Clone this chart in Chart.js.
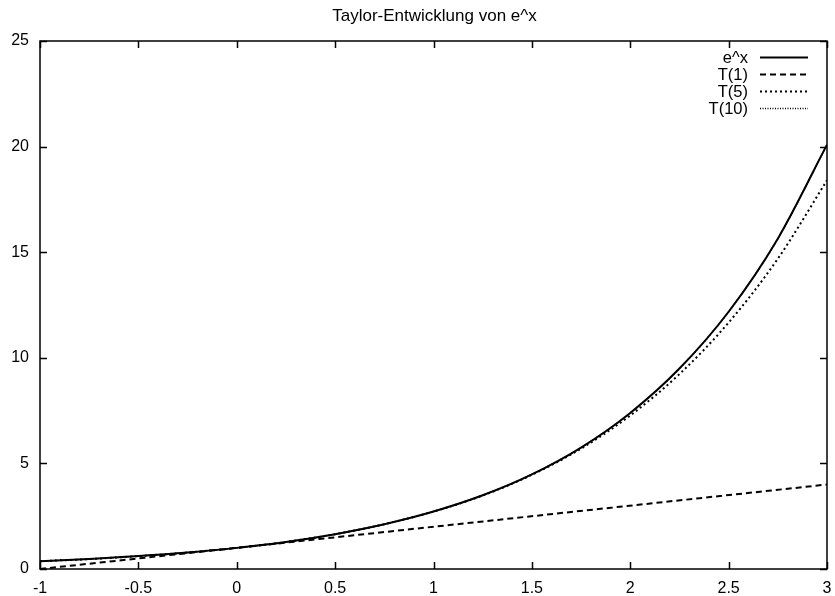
<!DOCTYPE html>
<html>
<head>
<meta charset="utf-8">
<title>Taylor-Entwicklung von e^x</title>
<script src="https://cdn.jsdelivr.net/npm/chart.js@4/dist/chart.umd.min.js"></script>
<style>
    html, body { margin: 0; padding: 0; background: #fff; }
    #wrap { width: 835px; height: 596px; }
</style>
</head>
<body>
<div id="wrap"><canvas id="taylorChart" width="835" height="596"></canvas></div>
<script>
    const chartTitle = 'Taylor-Entwicklung von e^x';

    const xValues = [-1, -0.75, -0.5, -0.25, 0, 0.25, 0.5, 0.75, 1, 1.25, 1.5, 1.75, 2, 2.25, 2.5, 2.75, 3];
    const expValues = [0.37, 0.47, 0.61, 0.78, 1.00, 1.28, 1.65, 2.12, 2.72, 3.49, 4.48, 5.75, 7.39, 9.49, 12.18, 15.64, 20.09];
    const t5Values = [0.37, 0.47, 0.61, 0.78, 1.00, 1.28, 1.65, 2.12, 2.72, 3.48, 4.46, 5.70, 7.27, 9.23, 11.67, 14.69, 18.40];
    const t10Values = [0.37, 0.47, 0.61, 0.78, 1.00, 1.28, 1.65, 2.12, 2.72, 3.49, 4.48, 5.75, 7.39, 9.49, 12.18, 15.64, 20.08];
    // T(1) is a straight line, two ends are enough
    const t1X = [-1, 3];
    const t1Values = [0, 4];

    const seriesLabels = ['e^x', 'T(1)', 'T(5)', 'T(10)'];
    const xTicks = [-1, -0.5, 0, 0.5, 1, 1.5, 2, 2.5, 3];
    const xTickLabels = ['-1', '-0.5', '0', '0.5', '1', '1.5', '2', '2.5', '3'];
    const yTicks = [0, 5, 10, 15, 20, 25];
    const yTickLabels = ['0', '5', '10', '15', '20', '25'];

    const FONT = '"Liberation Sans", Arial, Helvetica, sans-serif';

    function toPoints(xs, ys) {
        return xs.map((x, i) => ({ x: x, y: ys[i] }));
    }

    // gnuplot-like frame: full border, inward ticks on all four sides, title
    const framePlugin = {
        id: 'frame',
        afterDatasetsDraw(chart) {
            const ctx = chart.ctx;
            const area = chart.chartArea;
            const xs = chart.scales.x;
            const ys = chart.scales.y;
            const tick = 7;
            ctx.save();
            ctx.strokeStyle = '#000';
            ctx.lineWidth = 1.5;
            ctx.setLineDash([]);
            ctx.strokeRect(area.left, area.top, area.right - area.left, area.bottom - area.top);
            ctx.beginPath();
            xTicks.forEach(v => {
                const px = Math.round(xs.getPixelForValue(v)) + 0.5;
                ctx.moveTo(px, area.bottom);
                ctx.lineTo(px, area.bottom - tick);
                ctx.moveTo(px, area.top);
                ctx.lineTo(px, area.top + tick);
            });
            yTicks.forEach(v => {
                const py = Math.round(ys.getPixelForValue(v)) + 0.5;
                ctx.moveTo(area.left, py);
                ctx.lineTo(area.left + tick, py);
                ctx.moveTo(area.right, py);
                ctx.lineTo(area.right - tick, py);
            });
            ctx.stroke();

            // title
            ctx.fillStyle = '#000';
            ctx.font = '17px ' + FONT;
            ctx.textAlign = 'center';
            ctx.textBaseline = 'alphabetic';
            ctx.fillText(chartTitle, (area.left + area.right) / 2 + 1, 21);

            // key in the top right corner, text left of the line sample
            ctx.font = '16.5px ' + FONT;
            ctx.textAlign = 'right';
            ctx.textBaseline = 'middle';
            chart.data.datasets.forEach((ds, i) => {
                const y = area.top + 16 + i * 17;
                ctx.fillStyle = '#000';
                ctx.fillText(ds.label, area.right - 79, y + 1);
                ctx.beginPath();
                ctx.strokeStyle = ds.borderColor;
                ctx.lineWidth = ds.borderWidth;
                ctx.setLineDash(ds.borderDash || []);
                ctx.moveTo(area.right - 67, y + 0.5);
                ctx.lineTo(area.right - 19, y + 0.5);
                ctx.stroke();
            });
            ctx.restore();
        }
    };

    const ctx = document.getElementById('taylorChart').getContext('2d');
    window.taylorChart = new Chart(ctx, {
        type: 'line',
        data: {
            datasets: [
                {
                    label: seriesLabels[0],
                    data: toPoints(xValues, expValues),
                    borderColor: '#000',
                    borderWidth: 2,
                    borderDash: [],
                    order: 1
                },
                {
                    label: seriesLabels[1],
                    data: toPoints(t1X, t1Values),
                    borderColor: '#000',
                    borderWidth: 2,
                    borderDash: [6, 4],
                    order: 2
                },
                {
                    label: seriesLabels[2],
                    data: toPoints(xValues, t5Values),
                    borderColor: '#000',
                    borderWidth: 2,
                    borderDash: [2, 3],
                    order: 3
                },
                {
                    label: seriesLabels[3],
                    data: toPoints(xValues, t10Values),
                    borderColor: '#000',
                    borderWidth: 1.5,
                    borderDash: [1, 1.5],
                    order: 0
                }
            ]
        },
        options: {
            responsive: false,
            animation: false,
            parsing: false,
            elements: {
                point: { radius: 0 },
                line: { cubicInterpolationMode: 'monotone', fill: false }
            },
            layout: { padding: { left: 0, right: 8, top: 41, bottom: 0 } },
            plugins: {
                legend: { display: false },
                title: { display: false },
                tooltip: { enabled: false }
            },
            scales: {
                x: {
                    type: 'linear',
                    min: -1,
                    max: 3,
                    grid: { display: false, drawTicks: false },
                    border: { display: false },
                    afterBuildTicks: scale => { scale.ticks = xTicks.map(v => ({ value: v })); },
                    afterFit: scale => { scale.height = 27; scale.paddingRight = 0; scale.paddingLeft = 0; },
                    ticks: {
                        color: '#000',
                        font: { family: FONT, size: 16 },
                        padding: 10,
                        maxRotation: 0,
                        autoSkip: false,
                        callback: (value) => xTickLabels[xTicks.indexOf(value)]
                    }
                },
                y: {
                    type: 'linear',
                    min: 0,
                    max: 25,
                    grid: { display: false, drawTicks: false },
                    border: { display: false },
                    afterBuildTicks: scale => { scale.ticks = yTicks.map(v => ({ value: v })); },
                    afterFit: scale => { scale.width = 40; },
                    ticks: {
                        color: '#000',
                        font: { family: FONT, size: 16 },
                        padding: 11,
                        autoSkip: false,
                        callback: (value) => yTickLabels[yTicks.indexOf(value)]
                    }
                }
            }
        },
        plugins: [framePlugin]
    });
</script>
</body>
</html>
